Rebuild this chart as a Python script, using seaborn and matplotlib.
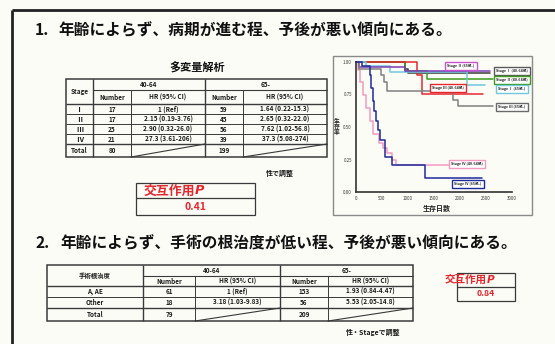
import matplotlib
matplotlib.use("Agg")
import matplotlib.pyplot as plt
import numpy as np
import pandas as pd
import seaborn as sns
from matplotlib.patches import Rectangle

# ---------------- data ----------------
title_1 = "年齢によらず、病期が進む程、予後が悪い傾向にある。"
title_2 = "年齢によらず、手術の根治度が低い程、予後が悪い傾向にある。"

# multivariate table by stage
age_groups = ["40-64", "65-"]
stages = ["Ⅰ", "Ⅱ", "Ⅲ", "Ⅳ"]
stage_n_young = [17, 17, 25, 21]
stage_hr_young = ["1 (Ref)", "2.15 (0.19-3.76)", "2.90 (0.32-26.0)", "27.3 (3.61-206)"]
stage_n_old = [59, 45, 56, 39]
stage_hr_old = ["1.64 (0.22-15.3)", "2.65 (0.32-22.0)", "7.62 (1.02-56.8)", "37.3 (5.08-274)"]
stage_total = [80, 199]
stage_note = "性で調整"
stage_interaction_p = "0.41"

# surgical curability table
curability = ["A, AE", "Other"]
cur_n_young = [61, 18]
cur_hr_young = ["1 (Ref)", "3.18 (1.03-9.83)"]
cur_n_old = [153, 56]
cur_hr_old = ["1.93 (0.84-4.47)", "5.53 (2.05-14.8)"]
cur_total = [79, 209]
cur_note = "性・Stageで調整"
cur_interaction_p = "0.84"

# Kaplan-Meier survival curves (days, survival probability)
km_labels = ["Stage Ⅰ (40-64歳)", "Stage Ⅱ (40-64歳)", "Stage Ⅲ (40-64歳)", "Stage Ⅳ (40-64歳)",
             "Stage Ⅰ (65歳-)", "Stage Ⅱ (65歳-)", "Stage Ⅲ (65歳-)", "Stage Ⅳ (65歳-)"]
km_colors = ["#3a3a3a", "#3d9b1c", "#e8262c", "#f39ac0",
             "#6ec8df", "#7b3cb4", "#808080", "#1f2a9c"]
days_s1_young = [0, 950, 1000, 2580]
surv_s1_young = [1.00, 0.95, 0.915, 0.915]
days_s2_young = [0, 950, 1370, 2630]
surv_s2_young = [1.00, 0.93, 0.87, 0.87]
days_s3_young = [0, 1170, 1270, 2440]
surv_s3_young = [1.00, 0.90, 0.755, 0.755]
days_s4_young = [0, 30, 80, 130, 200, 260, 330, 440, 520, 600, 700, 760, 1800]
surv_s4_young = [1.00, 0.94, 0.85, 0.75, 0.65, 0.55, 0.45, 0.38, 0.34, 0.30, 0.25, 0.21, 0.21]
days_s1_old = [0, 200, 650, 2130, 2480]
surv_s1_old = [1.00, 0.97, 0.92, 0.82, 0.82]
days_s2_old = [0, 60, 950, 2580]
surv_s2_old = [1.00, 0.965, 0.93, 0.93]
days_s3_old = [0, 50, 480, 530, 600, 1870, 1960, 2630]
surv_s3_old = [1.00, 0.95, 0.90, 0.85, 0.78, 0.71, 0.66, 0.66]
days_s4_old = [0, 120, 270, 290, 320, 350, 390, 430, 470, 560, 700, 1330, 2420]
surv_s4_old = [1.00, 0.97, 0.90, 0.80, 0.70, 0.62, 0.55, 0.48, 0.40, 0.27, 0.21, 0.11, 0.11]
km_days = [days_s1_young, days_s2_young, days_s3_young, days_s4_young,
           days_s1_old, days_s2_old, days_s3_old, days_s4_old]
km_surv = [surv_s1_young, surv_s2_young, surv_s3_young, surv_s4_young,
           surv_s1_old, surv_s2_old, surv_s3_old, surv_s4_old]
km_xticks = [0, 500, 1000, 1500, 2000, 2500, 3000]
km_yticks = [0.0, 0.25, 0.50, 0.75, 1.00]

km_df = pd.concat(
    [pd.DataFrame({"day": d, "surv": s, "group": g}) for d, s, g in zip(km_days, km_surv, km_labels)],
    ignore_index=True,
)

# ---------------- figure ----------------
sns.set_theme(style="white")
plt.rcParams["font.family"] = ["Noto Sans CJK JP", "DejaVu Sans"]

W, H = 555, 344
BG = "#fcfcf6"
RED = "#e8262e"
LINE = "#3a3a3a"
fig = plt.figure(figsize=(W / 100, H / 100), dpi=100)
fig.patch.set_facecolor(BG)

# survival plot
ax = fig.add_axes([356 / W, 1 - 192 / H, (512 - 356) / W, (192 - 62) / H])
ax.set_facecolor("none")
sns.lineplot(data=km_df, x="day", y="surv", hue="group", hue_order=km_labels,
             palette=km_colors, estimator=None, drawstyle="steps-post",
             linewidth=1.1, legend=False, ax=ax)
for ln in ax.lines:
    ln.set_clip_on(False)
ax.set_xlim(0, 3000)
ax.set_ylim(0, 1)
ax.set_xticks(km_xticks)
ax.set_xticklabels([str(v) for v in km_xticks])
ax.set_yticks(km_yticks)
ax.set_yticklabels([f"{v:.2f}" for v in km_yticks])
ax.tick_params(labelsize=3.2, length=0, pad=3, colors="#333333")
ax.set_xlabel("")
ax.set_ylabel("")
sns.despine(ax=ax)
for sp in ("left", "bottom"):
    ax.spines[sp].set_color("#333333")
    ax.spines[sp].set_linewidth(1.2)

# overlay in pixel coordinates for the slide content
ov = fig.add_axes([0, 0, 1, 1])
ov.set_xlim(0, W)
ov.set_ylim(H, 0)
ov.axis("off")
ov.patch.set_alpha(0)

# slide frame
ov.plot([12, W], [10, 10], color="#222222", lw=2, solid_capstyle="butt")
ov.plot([12, 12], [10, H], color="#222222", lw=2, solid_capstyle="butt")

# headings
ov.text(35, 30, "1.", fontsize=11.3, fontweight="bold", va="center", ha="left", color="#111111")
ov.text(58, 30, title_1, fontsize=11.3, fontweight="bold", va="center", ha="left", color="#111111")
ov.text(35, 243, "2.", fontsize=11.3, fontweight="bold", va="center", ha="left", color="#111111")
ov.text(60, 243, title_2, fontsize=11.3, fontweight="bold", va="center", ha="left", color="#111111")


def hl(y, x0, x1, lw=0.8):
    ov.plot([x0, x1], [y, y], color=LINE, lw=lw, solid_capstyle="butt")


def vl(x, y0, y1, lw=0.8):
    ov.plot([x, x], [y0, y1], color=LINE, lw=lw, solid_capstyle="butt")


def t(x, y, s, fs=4.6, color="#1a1a1a", weight="bold"):
    ov.text(x, y, s, fontsize=fs, ha="center", va="center", color=color, fontweight=weight)


# ----- table 1 -----
ov.text(197, 68, "多変量解析", fontsize=8, fontweight="bold", ha="center", va="center", color="#111111")
xs = [66, 93, 131, 205, 243, 327]
ys = [79, 90, 104, 114, 124, 134, 144, 157]
ov.add_patch(Rectangle((xs[0], ys[0]), xs[-1] - xs[0], ys[-1] - ys[0], fill=False, ec=LINE, lw=1.1))
hl(ys[1], xs[1], xs[-1])
for y in ys[2:-1]:
    hl(y, xs[0], xs[-1], lw=1.0 if y in (ys[2], ys[-2]) else 0.7)
for i, x in enumerate(xs[1:-1], start=1):
    top = ys[0] if x in (xs[1], xs[3]) else ys[1]
    vl(x, top, ys[-1], lw=1.0 if x in (xs[1], xs[3]) else 0.7)
# diagonal strikes through empty HR cells in the total row
ov.plot([xs[2], xs[3]], [ys[-1], ys[-2]], color=LINE, lw=0.8)
ov.plot([xs[4], xs[5]], [ys[-1], ys[-2]], color=LINE, lw=0.8)

t((xs[0] + xs[1]) / 2, (ys[0] + ys[2]) / 2, "Stage")
t((xs[1] + xs[3]) / 2, (ys[0] + ys[1]) / 2, age_groups[0])
t((xs[3] + xs[5]) / 2, (ys[0] + ys[1]) / 2, age_groups[1])
for c0, c1, s in [(1, 2, "Number"), (2, 3, "HR (95% CI)"), (3, 4, "Number"), (4, 5, "HR (95% CI)")]:
    t((xs[c0] + xs[c1]) / 2, (ys[1] + ys[2]) / 2, s)
for r, (st, n1, h1, n2, h2) in enumerate(zip(stages, stage_n_young, stage_hr_young, stage_n_old, stage_hr_old)):
    yc = (ys[2 + r] + ys[3 + r]) / 2
    t((xs[0] + xs[1]) / 2, yc, st, fs=5.2)
    t((xs[1] + xs[2]) / 2, yc, str(n1))
    t((xs[2] + xs[3]) / 2, yc, h1)
    t((xs[3] + xs[4]) / 2, yc, str(n2))
    t((xs[4] + xs[5]) / 2, yc, h2)
yc = (ys[-2] + ys[-1]) / 2
t((xs[0] + xs[1]) / 2, yc, "Total")
t((xs[1] + xs[2]) / 2, yc, str(stage_total[0]))
t((xs[3] + xs[4]) / 2, yc, str(stage_total[1]))
t(280, 173, stage_note, fs=5)

# interaction box 1
ov.add_patch(Rectangle((136, 183), 119, 32, fill=False, ec=LINE, lw=0.9))
hl(198, 136, 255, lw=0.9)
ov.text(195, 190.5, "交互作用", fontsize=9.3, fontweight="bold", color=RED, ha="right", va="center")
ov.text(195, 190.5, "P", fontsize=9.3, fontweight="bold", color=RED, ha="left", va="center",
        style="italic", family=["DejaVu Sans"])
t(195, 206.5, stage_interaction_p, fs=7.5, color=RED)

# ----- survival plot frame, labels -----
ov.add_patch(Rectangle((333, 56), 199, 159, fill=False, ec="#8a8a8a", lw=1.0))
ov.text(337, 127, "生\n存\n率", fontsize=4.2, fontweight="bold", ha="center", va="center",
        linespacing=1.0, color="#222222")
ov.text(437, 208, "生存日数", fontsize=5, fontweight="bold", ha="center", va="center", color="#222222")
label_pos = {
    "Stage Ⅱ (65歳-)": (461, 66, "#cc4fcf"),
    "Stage Ⅰ (40-64歳)": (512, 71, "#5a5a5a"),
    "Stage Ⅱ (40-64歳)": (512, 80, "#3d9b1c"),
    "Stage Ⅰ (65歳-)": (512, 89, "#6ec8df"),
    "Stage Ⅲ (40-64歳)": (448, 88, "#e8262c"),
    "Stage Ⅲ (65歳-)": (512, 107, "#6a6a6a"),
    "Stage Ⅳ (40-64歳)": (467, 164, "#f39ac0"),
    "Stage Ⅳ (65歳-)": (468, 184, "#1f2a9c"),
}
for lab in km_labels:
    x, y, c = label_pos[lab]
    ov.text(x, y, lab, fontsize=2.6, fontweight="bold", ha="center", va="center", color="#222222",
            bbox=dict(boxstyle="square,pad=0.55", fc="white", ec=c, lw=1.0))

# ----- table 2 -----
xs2 = [47, 143, 195, 280, 328, 413]
ys2 = [265, 276, 286, 297, 308, 321]
ov.add_patch(Rectangle((xs2[0], ys2[0]), xs2[-1] - xs2[0], ys2[-1] - ys2[0], fill=False, ec=LINE, lw=1.1))
hl(ys2[1], xs2[1], xs2[-1])
hl(ys2[2], xs2[0], xs2[-1], lw=1.0)
hl(ys2[3], xs2[0], xs2[-1], lw=0.7)
hl(ys2[4], xs2[0], xs2[-1], lw=1.0)
for x in xs2[1:-1]:
    top = ys2[0] if x in (xs2[1], xs2[3]) else ys2[1]
    vl(x, top, ys2[-1], lw=1.0 if x in (xs2[1], xs2[3]) else 0.7)
ov.plot([xs2[2], xs2[3]], [ys2[-1], ys2[-2]], color=LINE, lw=0.8)
ov.plot([xs2[4], xs2[5]], [ys2[-1], ys2[-2]], color=LINE, lw=0.8)

t((xs2[0] + xs2[1]) / 2, (ys2[0] + ys2[2]) / 2, "手術根治度")
t((xs2[1] + xs2[3]) / 2, (ys2[0] + ys2[1]) / 2, age_groups[0])
t((xs2[3] + xs2[5]) / 2, (ys2[0] + ys2[1]) / 2, age_groups[1])
for c0, c1, s in [(1, 2, "Number"), (2, 3, "HR (95% CI)"), (3, 4, "Number"), (4, 5, "HR (95% CI)")]:
    t((xs2[c0] + xs2[c1]) / 2, (ys2[1] + ys2[2]) / 2, s)
for r, (cu, n1, h1, n2, h2) in enumerate(zip(curability, cur_n_young, cur_hr_young, cur_n_old, cur_hr_old)):
    yc = (ys2[2 + r] + ys2[3 + r]) / 2
    t((xs2[0] + xs2[1]) / 2, yc, cu)
    t((xs2[1] + xs2[2]) / 2, yc, str(n1))
    t((xs2[2] + xs2[3]) / 2, yc, h1)
    t((xs2[3] + xs2[4]) / 2, yc, str(n2))
    t((xs2[4] + xs2[5]) / 2, yc, h2)
yc = (ys2[-2] + ys2[-1]) / 2
t((xs2[0] + xs2[1]) / 2, yc, "Total")
t((xs2[1] + xs2[2]) / 2, yc, str(cur_total[0]))
t((xs2[3] + xs2[4]) / 2, yc, str(cur_total[1]))
t(373, 332, cur_note, fs=5)

# interaction box 2
ov.add_patch(Rectangle((457, 273), 58, 28, fill=False, ec=LINE, lw=0.9))
hl(287, 457, 515, lw=0.9)
ov.text(487, 280, "交互作用", fontsize=7.6, fontweight="bold", color=RED, ha="right", va="center")
ov.text(487, 280, "P", fontsize=7.6, fontweight="bold", color=RED, ha="left", va="center",
        style="italic", family=["DejaVu Sans"])
t(486, 294, cur_interaction_p, fs=6.3, color=RED)

fig.savefig("out.png", dpi=100, facecolor=BG)
